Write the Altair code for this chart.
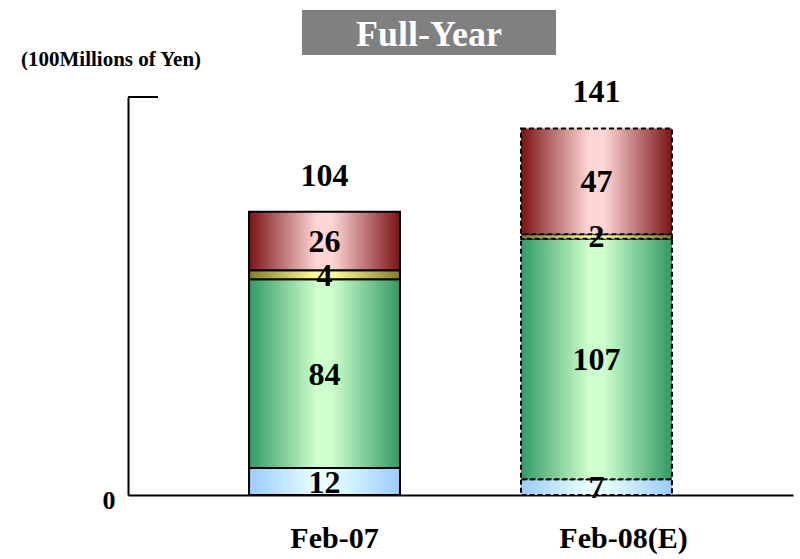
import altair as alt
import pandas as pd

# ---- data ----
periods = ["Feb-07", "Feb-08(E)"]
segments = ["Segment A", "Segment B", "Segment C", "Segment D"]  # bottom -> top
seg_a = [12, 7]      # light blue
seg_b = [84, 107]    # green
seg_c = [4, 2]       # yellow
seg_d = [26, 47]     # red
totals = [104, 141]

rows = []
for i, p in enumerate(periods):
    for order, (s, vals) in enumerate(zip(segments, [seg_a, seg_b, seg_c, seg_d])):
        rows.append({"period": p, "segment": s, "order": order, "value": vals[i]})
df = pd.DataFrame(rows)

tot_df = pd.DataFrame({
    "period": periods,
    "total": totals,
    "top": [a + b + c + d for a, b, c, d in zip(seg_a, seg_b, seg_c, seg_d)],
})

FONT = "Liberation Serif"


def grad(edge, center):
    return alt.Gradient(
        gradient="linear",
        stops=[
            alt.GradientStop(color=edge, offset=0),
            alt.GradientStop(color=center, offset=0.45),
            alt.GradientStop(color=center, offset=0.55),
            alt.GradientStop(color=edge, offset=1),
        ],
        x1=0, x2=1, y1=0, y2=0,
    )


fills = {
    "Segment A": grad("#99ccff", "#e8ffff"),
    "Segment B": grad("#339966", "#ccffcc"),
    "Segment C": grad("#808020", "#ffff99"),
    "Segment D": grad("#7a1414", "#ffd6d6"),
}

x_enc = alt.X(
    "period:N",
    sort=periods,
    title=None,
    scale=alt.Scale(paddingInner=0.445, paddingOuter=0.445),
    axis=alt.Axis(
        labelFont=FONT, labelFontSize=30, labelFontWeight="bold", labelColor="black",
        labelAngle=0, labelPadding=28, ticks=False, domainColor="black", domainWidth=2,
        labelOffset={"condition": {"test": "datum.value == 'Feb-08(E)'", "value": 27}, "value": 10},
    ),
)
y_scale = alt.Scale(domain=[0, 177], nice=False)

base = alt.Chart(df).transform_stack(
    stack="value", groupby=["period"], as_=["y0", "y1"], sort=[alt.SortField("order")]
)

dash = alt.StrokeDash(
    "period:N", scale=alt.Scale(domain=periods, range=[[1, 0], [5, 3]]), legend=None
)

layers = []
for s in segments:
    layers.append(
        base.transform_filter(alt.datum.segment == s)
        .mark_bar(fill=fills[s], stroke="black", strokeWidth=2)
        .encode(
            x=x_enc,
            y=alt.Y("y0:Q", scale=y_scale, title=None,
                    axis=alt.Axis(values=[0], ticks=False, grid=False, labelFont=FONT,
                                  labelFontSize=26, labelFontWeight="bold", labelColor="black",
                                  labelPadding=13, labelOffset=5, domainColor="black", domainWidth=2)),
            y2="y1:Q",
            strokeDash=dash,
        )
    )

labels = base.transform_calculate(mid="(datum.y0 + datum.y1) / 2").mark_text(
    font=FONT, fontSize=32, fontWeight="bold", color="black", baseline="middle", dy=1
).encode(
    x=alt.X("period:N", sort=periods),
    y=alt.Y("mid:Q", scale=y_scale),
    text="value:Q",
)

total_text = alt.Chart(tot_df).mark_text(
    font=FONT, fontSize=32, fontWeight="bold", color="black", baseline="middle", dy=-36
).encode(
    x=alt.X("period:N", sort=periods),
    y=alt.Y("top:Q", scale=y_scale),
    text="total:Q",
)

deco = pd.DataFrame({"k": [0]})
top_tick = alt.Chart(deco).mark_rule(color="black", strokeWidth=2).encode(
    x=alt.value(0), x2=alt.value(30), y=alt.value(0)
)
unit_text = alt.Chart(deco).mark_text(
    font=FONT, fontSize=21, fontWeight="bold", color="black", align="left", baseline="middle"
).encode(x=alt.value(-107), y=alt.value(-37), text=alt.value("(100Millions of Yen)"))
title_box = alt.Chart(deco).mark_rect(color="#808080").encode(
    x=alt.value(174), x2=alt.value(428), y=alt.value(-87), y2=alt.value(-42)
)
title_text = alt.Chart(deco).mark_text(
    font=FONT, fontSize=36, fontWeight="bold", color="white", align="center", baseline="middle"
).encode(x=alt.value(301), y=alt.value(-62), text=alt.value("Full-Year"))

chart = alt.layer(
    *layers, labels, total_text, top_tick, unit_text, title_box, title_text
).properties(
    width=665, height=398,
    padding={"left": 128, "top": 97, "right": 7, "bottom": 64},
    autosize="none",
).configure_view(stroke=None).configure_axis(grid=False)

chart.save("out.html", embed_options={"renderer": "svg", "actions": False})
